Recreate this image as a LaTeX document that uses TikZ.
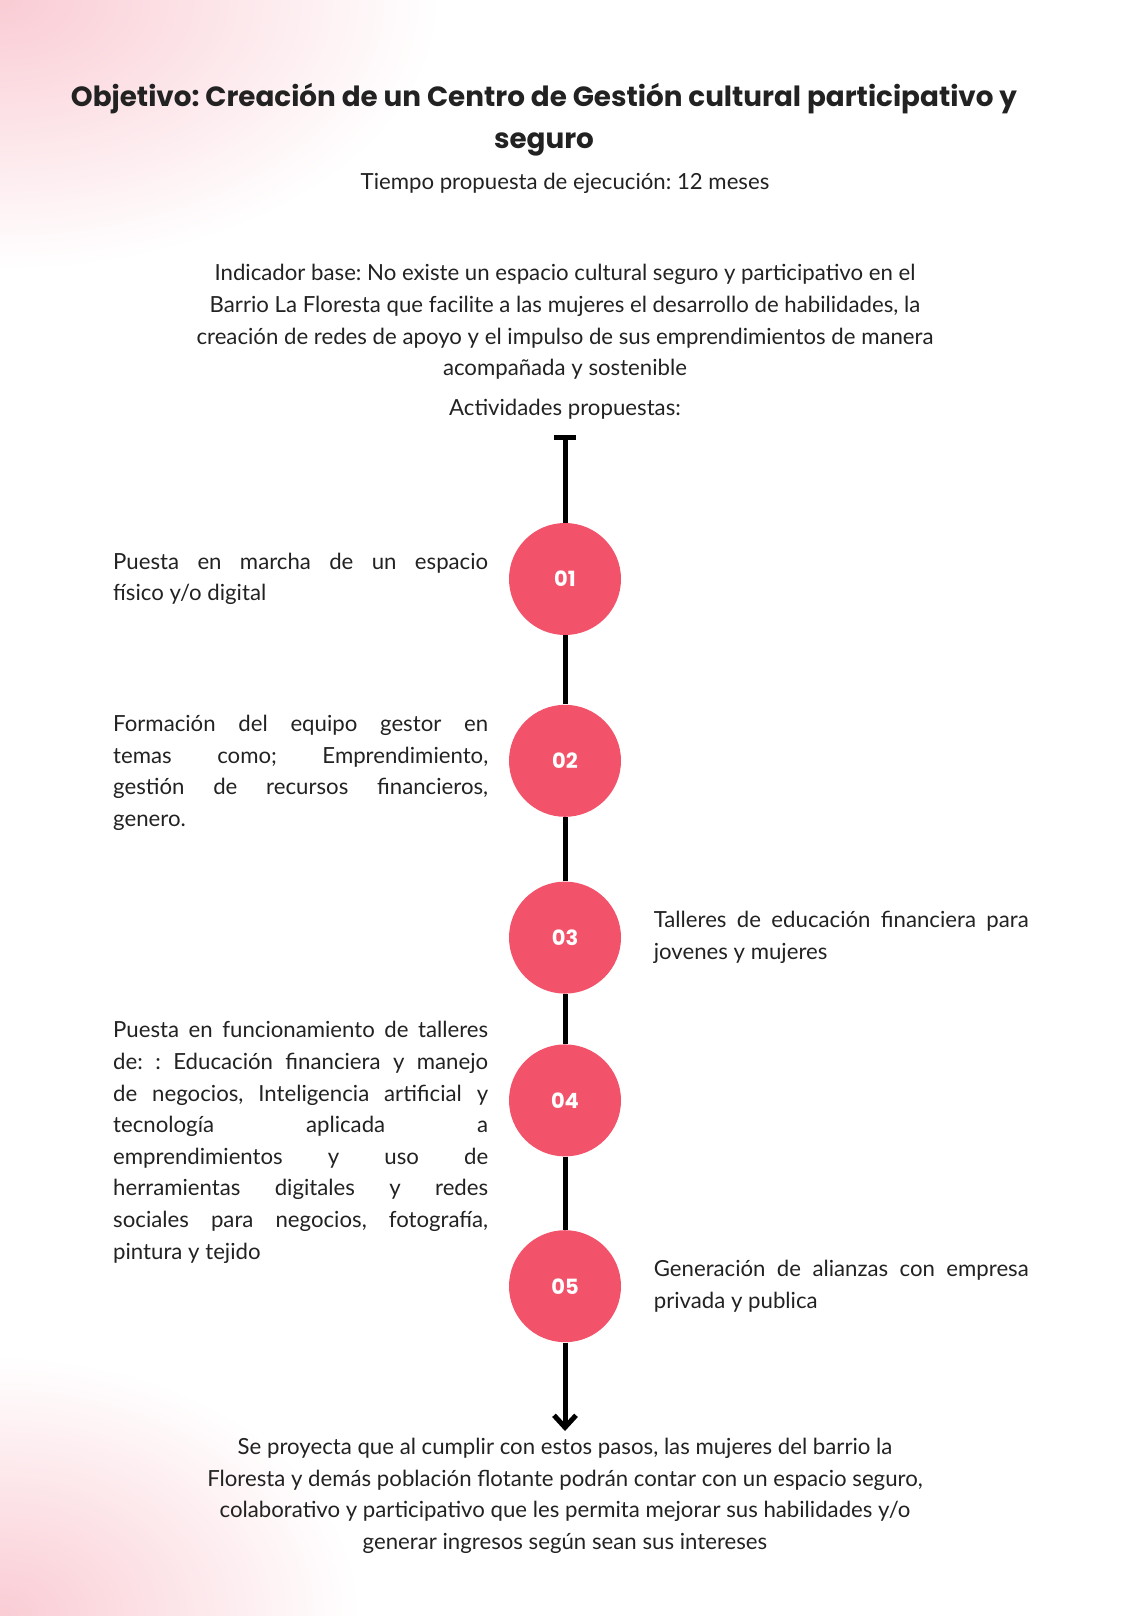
\documentclass[tikz,border=0pt]{standalone}
\usepackage{fontspec}
\setmainfont{Lato}
\newfontfamily\titlefont{Poppins}
\usetikzlibrary{positioning, arrows.meta}
\definecolor{dotred}{RGB}{242,82,106}
\definecolor{fadepink}{RGB}{250,204,212}
\definecolor{inkgray}{RGB}{34,34,34}
\frenchspacing

\begin{document}
\begin{tikzpicture}[x=0.5pt, y=-0.5pt, node distance={30pt}, text=inkgray,
                    num/.style = {circle, fill=dotred, minimum size=56pt, inner sep=0pt,
                                  text=white, font=\titlefont\bfseries\fontsize{10.5}{12}\selectfont},
                    txt/.style = {inner sep=0pt, text width=187.5pt, align=justify,
                                  font=\fontsize{11.1}{15.8}\selectfont},
                    para/.style = {inner sep=0pt, align=center, font=\fontsize{11.1}{15.8}\selectfont},
                    spine/.style = {line width=2.5pt}]
    \useasboundingbox (0,0) rectangle (1140,1616);
    \begin{scope}
        \clip (0,0) rectangle (1140,1616);
        \shade[inner color=fadepink, outer color=white] (0,0) ellipse [x radius=440, y radius=270];
        \shade[inner color=fadepink, outer color=white] (0,1616) ellipse [x radius=360, y radius=260];
    \end{scope}

    \node[align=center, inner sep=0pt, font=\titlefont\bfseries\fontsize{13.9}{21}\selectfont] (title) at (544,120)
        {Objetivo: Creación de un Centro de Gestión cultural participativo y\\ seguro};
    \node[para] (time) at (565,183) {Tiempo propuesta de ejecución: 12 meses};
    \node[para] (base) at (565,322) {Indicador base: No existe un espacio cultural seguro y participativo en el\\
        Barrio La Floresta que facilite a las mujeres el desarrollo de habilidades, la\\
        creación de redes de apoyo y el impulso de sus emprendimientos de manera\\
        acompañada y sostenible};
    \node[para] (acts) at (565,409) {Actividades propuestas:};

    \coordinate (top) at (565,435);
    \node[num] (c1) at (565,579) {01};
    \node[num] (c2) [below=34.5pt of c1] {02};
    \node[num] (c3) [below=32pt of c2] {03};
    \node[num] (c4) [below=25pt of c3] {04};
    \node[num] (c5) [below=36.5pt of c4] {05};
    \coordinate (end) at (565,1431);

    \node[txt] (t1) [left=10pt of c1] {Puesta en marcha de un espacio\linebreak físico y/o digital};
    \node[txt] (t2) [left=10pt of c2, yshift=-6pt] {Formación del equipo gestor en\linebreak
        temas como; Emprendimiento,\linebreak gestión de recursos financieros,\linebreak genero.};
    \node[txt] (t3) [right=16pt of c3] {Talleres de educación financiera para\linebreak jovenes y mujeres};
    \node[txt] (t4) [left=10pt of c4, yshift=-21pt] {Puesta en funcionamiento de talleres\linebreak
        de: : Educación financiera y manejo\linebreak de negocios, Inteligencia artificial y\linebreak
        tecnología aplicada a\linebreak emprendimientos y uso de\linebreak
        herramientas digitales y redes\linebreak sociales para negocios, fotografía,\linebreak
        pintura y tejido};
    \node[txt] (t5) [right=16pt of c5] {Generación de alianzas con empresa\linebreak privada y publica};

    \draw[spine, {Bar[width=11pt]}-] (top) -- (c1);
    \draw[spine] (c1) -- (c2) (c2) -- (c3) (c3) -- (c4) (c4) -- (c5);
    \draw[spine, -{Straight Barb[length=6pt, width=11pt]}] (c5) -- (end);

    \node[para] (goal) at (565,1496) {Se proyecta que al cumplir con estos pasos, las mujeres del barrio la\\
        Floresta y demás población flotante podrán contar con un espacio seguro,\\
        colaborativo y participativo que les permita mejorar sus habilidades y/o\\
        generar ingresos según sean sus intereses};
\end{tikzpicture}
\end{document}
